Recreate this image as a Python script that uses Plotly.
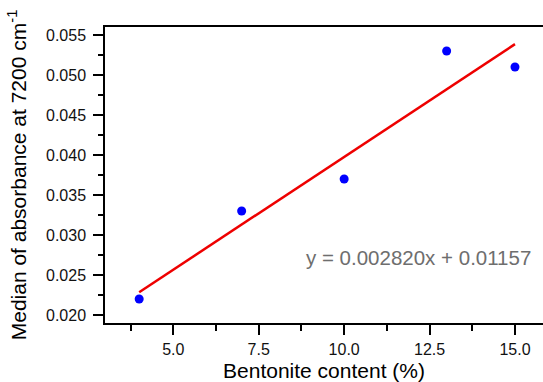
import numpy as np
import plotly.graph_objects as go

bentonite = [4, 7, 10, 13, 15]
absorbance = [0.022, 0.033, 0.037, 0.053, 0.051]

slope, intercept = np.polyfit(bentonite, absorbance, 1)
fit_x = np.array([min(bentonite), max(bentonite)])
fit_y = slope * fit_x + intercept

FONT = "Liberation Sans, Arial"

fig = go.Figure()
fig.add_trace(go.Scatter(x=fit_x, y=fit_y, mode="lines",
                         line=dict(color="#ee0000", width=2.5), showlegend=False))
fig.add_trace(go.Scatter(x=bentonite, y=absorbance, mode="markers",
                         marker=dict(color="#0000ff", size=9), showlegend=False))

fig.add_annotation(x=15.53, y=0.02725, xref="x", yref="y", xanchor="right", yanchor="middle",
                   text=f"y = {slope:.6f}x + {intercept:.5f}", showarrow=False,
                   font=dict(family=FONT, size=20.5, color="#6e6e6e"))

axis_common = dict(showline=True, linecolor="black", linewidth=1.5, ticks="outside",
                   ticklen=10, tickwidth=1.5, tickcolor="black", showgrid=False, zeroline=False,
                   tickfont=dict(family=FONT, size=16, color="#111"))

fig.update_xaxes(range=[3, 15.82], dtick=2.5, tick0=0, tickformat=".1f", mirror=True,
                 ticklabelstandoff=1,
                 minor=dict(dtick=1.25, ticks="outside", ticklen=6, tickwidth=1.5, tickcolor="black"),
                 title=dict(text="Bentonite content (%)", standoff=10,
                            font=dict(family=FONT, size=21, color="black")),
                 **axis_common)
fig.update_yaxes(range=[0.019, 0.056], dtick=0.005, tick0=0, tickformat=".3f",
                 ticklabelstandoff=4,
                 minor=dict(dtick=0.0025, ticks="outside", ticklen=5, tickwidth=1.5, tickcolor="black"),
                 title=dict(text="Median of absorbance at 7200 cm<sup>-1</sup>", standoff=14,
                            font=dict(family=FONT, size=21, color="black")),
                 **axis_common)

fig.update_layout(width=543, height=382, margin=dict(l=105, r=0, t=27, b=59),
                  plot_bgcolor="white", paper_bgcolor="white")

fig.write_html("out.html")
